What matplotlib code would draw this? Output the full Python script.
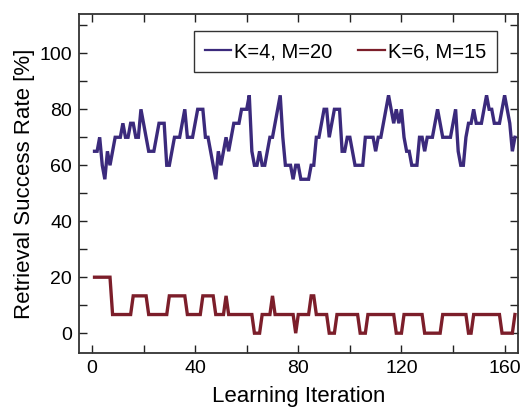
import matplotlib
matplotlib.use("Agg")
import matplotlib.pyplot as plt
from matplotlib.ticker import MultipleLocator
from matplotlib.lines import Line2D

plt.rcParams['font.family'] = ['Liberation Sans', 'DejaVu Sans']

iterations = list(range(1, 165))
k4_m20 = [65, 65, 70, 60, 55, 65, 60, 65, 70, 70,
          70, 75, 70, 70, 75, 75, 70, 70, 80, 75,
          70, 65, 65, 65, 70, 75, 75, 75, 60, 60,
          65, 70, 70, 70, 75, 80, 70, 70, 70, 75,
          80, 80, 80, 70, 70, 65, 60, 55, 65, 60,
          65, 70, 65, 70, 75, 75, 75, 80, 80, 80,
          85, 65, 60, 60, 65, 60, 60, 65, 70, 70,
          75, 80, 85, 70, 60, 60, 60, 55, 60, 60,
          55, 55, 55, 55, 60, 60, 70, 70, 75, 80,
          80, 70, 75, 80, 80, 80, 65, 65, 70, 70,
          65, 60, 60, 60, 60, 70, 70, 70, 70, 65,
          70, 70, 75, 80, 85, 80, 75, 80, 75, 80,
          70, 65, 65, 60, 60, 60, 70, 70, 65, 70,
          70, 70, 75, 80, 75, 70, 70, 70, 70, 75,
          80, 65, 60, 60, 70, 75, 75, 80, 75, 75,
          75, 80, 85, 80, 80, 75, 75, 75, 80, 85,
          80, 75, 65, 70]

a, b, c, d = 20.0, 40 / 3, 20 / 3, 0.0
k6_m15 = ([a] * 7 + [c] * 8 + [b] * 6 + [c] * 8 + [b] * 7 + [c] * 6 +
          [b] * 5 + [c] * 4 + [b] + [c] * 10 + [d] * 3 + [c] * 4 + [b] +
          [c] * 8 + [d] + [c] * 5 + [b] * 2 + [c] * 5 + [d] * 3 + [c] * 9 +
          [d] * 3 + [c] * 11 + [d] * 3 + [c] * 8 + [d] * 7 + [c] * 10 +
          [d] * 2 + [c] * 11 + [d] * 5 + [c])

labels = ['K=4, M=20', 'K=6, M=15']
colors = ['#3b2a7c', '#7c1e2a']

fig = plt.figure(figsize=(5.27, 4.16), dpi=100)
ax = fig.add_axes([0.15, 0.152, 0.832, 0.814])

ax.plot(iterations, k4_m20, color=colors[0], lw=2.4, solid_joinstyle='miter')
ax.plot(iterations, k6_m15[:len(iterations)], color=colors[1], lw=2.4, solid_joinstyle='miter')

ax.set_xlim(-5, 165)
ax.set_ylim(-7, 114)
ax.xaxis.set_major_locator(MultipleLocator(40))
ax.xaxis.set_minor_locator(MultipleLocator(20))
ax.yaxis.set_major_locator(MultipleLocator(20))
ax.yaxis.set_minor_locator(MultipleLocator(10))
ax.tick_params(which='both', direction='in', top=True, right=True,
               length=6, width=1.0, color='#222222', labelsize=14, pad=5)
for s in ax.spines.values():
    s.set_linewidth(1.3)
    s.set_color('#333333')

ax.set_xlabel('Learning Iteration', fontsize=16, labelpad=7)
ax.set_ylabel('Retrieval Success Rate [%]', fontsize=16, labelpad=3)

handles = [Line2D([], [], color=colors[0], lw=1.6),
           Line2D([], [], color=colors[1], lw=1.6)]
leg = ax.legend(handles, labels, loc='upper right', ncol=2, fontsize=14.5,
                frameon=True, fancybox=False, edgecolor='black',
                handlelength=1.3, handletextpad=0.15, columnspacing=1.3,
                borderpad=0.55, borderaxespad=0.0,
                bbox_to_anchor=(0.953, 0.950))
leg.get_frame().set_linewidth(1.0)

fig.savefig('out.png', dpi=100)
